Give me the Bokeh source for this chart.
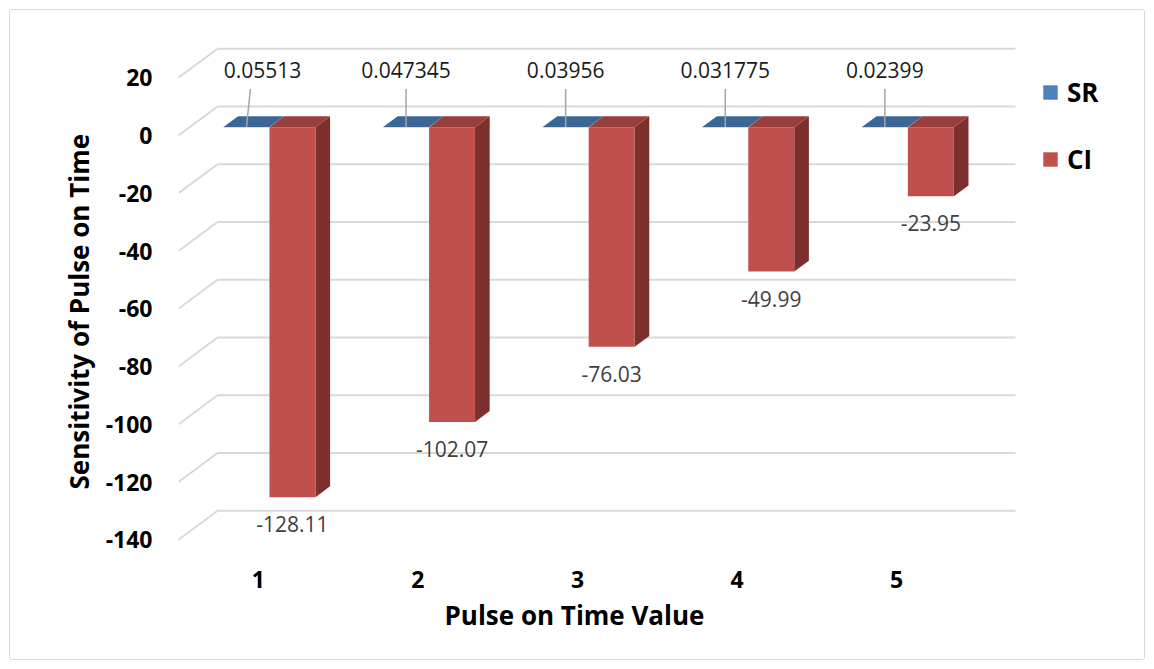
from bokeh.core.properties import value
from bokeh.embed import file_html
from bokeh.models import (ColumnDataSource, FixedTicker, Legend, LegendItem,
                          LinearAxis, Range1d, Title)
from bokeh.plotting import figure
from bokeh.resources import INLINE

# ---- data -----------------------------------------------------------------
categories = [1, 2, 3, 4, 5]
sr_values = [0.05513, 0.047345, 0.03956, 0.031775, 0.02399]
ci_values = [-128.11, -102.07, -76.03, -49.99, -23.95]
y_ticks = [-140, -120, -100, -80, -60, -40, -20, 0, 20]
series_names = ["SR", "CI"]
x_title = "Pulse on Time Value"
y_title = "Sensitivity of Pulse on Time"

# ---- layout / pseudo-3D geometry ----------------------------------------------
FONT = "Open Sans"
W, H = 1136, 651
LEFT, TOP, BOTTOM = 168, 31, 118
FRAME_W = W - LEFT
FRAME_H = H - TOP - BOTTOM
CAT_PX = 159.6          # pixels per category step
VAL_PX = 2.888          # pixels per value unit
DX = 39 / CAT_PX        # depth of the chart box, in category units
DY = 29 / VAL_PX        # depth of the chart box, in value units
BAR_W = 46 / CAT_PX     # width of one column
T0, T1 = 0.286, 0.661   # front/back depth of the columns (0 = front, 1 = back)

x0 = 0.5 - DX
x1 = x0 + FRAME_W / CAT_PX
y1 = 22.5
y0 = y1 - FRAME_H / VAL_PX

BLUE = "#4F81BD"
BLUE_TOP = "#3C6696"
RED = "#C0504D"
RED_TOP = "#983F3C"
RED_SIDE = "#7D2F2D"
GRID = "#D9D9D9"


def proj(x, v, t):
    """Project a point at depth t (0 front, 1 back wall) onto the page."""
    return x - (1 - t) * DX, v - (1 - t) * DY


p = figure(width=W, height=H,
           x_range=Range1d(x0, x1), y_range=Range1d(y0, y1),
           x_axis_location=None, y_axis_location=None,
           toolbar_location=None, output_backend="svg",
           min_border_left=LEFT, min_border_right=0,
           min_border_top=TOP, min_border_bottom=BOTTOM,
           outline_line_color=None,
           background_fill_color="white", border_fill_color="white",
           margin=(9, 9, 9, 9),
           styles={"border": "1.5px solid #d9d9d9", "border-radius": "3px"})
p.grid.visible = False

# front-edge ranges used for tick labels
p.extra_y_ranges = {"front": Range1d(y0 + DY, y1 + DY)}
p.extra_x_ranges = {"front": Range1d(x0 + DX, x1 + DX)}

# ---- walls: gridlines on the back wall and the left side -----------------
wall_left, wall_right = categories[0] - 0.5, categories[-1] + 0.5
p.segment(x0=[wall_left] * len(y_ticks), y0=y_ticks,
          x1=[wall_right] * len(y_ticks), y1=y_ticks,
          line_color=GRID, line_width=2)
side = [proj(wall_left, t, 0) for t in y_ticks]
p.segment(x0=[s[0] for s in side], y0=[s[1] for s in side],
          x1=[wall_left] * len(y_ticks), y1=y_ticks,
          line_color=GRID, line_width=2)


# ---- SR columns (very small values: only the top face shows) -----------
def face(pts):
    return [q[0] for q in pts], [q[1] for q in pts]


sr_top_xs, sr_top_ys = [], []
sr_l, sr_r, sr_t, sr_b = [], [], [], []
for c, v in zip(categories, sr_values):
    xs, ys = face([proj(c - BAR_W, v, T0), proj(c, v, T0),
                   proj(c, v, T1), proj(c - BAR_W, v, T1)])
    sr_top_xs.append(xs)
    sr_top_ys.append(ys)
    sr_l.append(proj(c - BAR_W, 0, T0)[0])
    sr_r.append(proj(c, 0, T0)[0])
    sr_t.append(proj(c, v, T0)[1])
    sr_b.append(proj(c, 0, T0)[1])

blue_front = p.quad(left=sr_l, right=sr_r, top=sr_t, bottom=sr_b,
                    fill_color=BLUE, line_color=None)
p.patches(sr_top_xs, sr_top_ys, fill_color=BLUE_TOP, line_color=None)

# ---- CI columns --------------------------------------------------------
ci_l, ci_r, ci_t, ci_b = [], [], [], []
top_xs, top_ys, side_xs, side_ys = [], [], [], []
for c, v in zip(categories, ci_values):
    ci_l.append(proj(c, 0, T0)[0])
    ci_r.append(proj(c + BAR_W, 0, T0)[0])
    ci_t.append(proj(c, 0, T0)[1])
    ci_b.append(proj(c, v, T0)[1])
    xs, ys = face([proj(c, 0, T0), proj(c + BAR_W, 0, T0),
                   proj(c + BAR_W, 0, T1), proj(c, 0, T1)])
    top_xs.append(xs)
    top_ys.append(ys)
    xs, ys = face([proj(c + BAR_W, 0, T0), proj(c + BAR_W, v, T0),
                   proj(c + BAR_W, v, T1), proj(c + BAR_W, 0, T1)])
    side_xs.append(xs)
    side_ys.append(ys)

p.patches(side_xs, side_ys, fill_color=RED_SIDE, line_color=None)
red_front = p.quad(left=ci_l, right=ci_r, top=ci_t, bottom=ci_b,
                   fill_color=RED, line_color=None)
p.patches(top_xs, top_ys, fill_color=RED_TOP, line_color=None)

# ---- data labels --------------------------------------------------------
ci_src = ColumnDataSource(dict(
    x=[proj(c + BAR_W / 2, v, T0)[0] for c, v in zip(categories, ci_values)],
    y=[proj(c, v, T0)[1] for c, v in zip(categories, ci_values)],
    text=[f"{v:g}" for v in ci_values]))
p.text(x="x", y="y", text="text", source=ci_src, y_offset=27,
       text_align="center", text_baseline="middle",
       text_font=value(FONT), text_font_size="21px", text_color="#404040")

sr_shift_px = [16, 0, 0, 0, 0]
sr_anchor = [proj(c - BAR_W / 2, v, T0) for c, v in zip(categories, sr_values)]
sr_src = ColumnDataSource(dict(
    x=[a[0] for a in sr_anchor], y=[a[1] for a in sr_anchor],
    dx=sr_shift_px, text=[f"{v:g}" for v in sr_values]))
leader_len = 13.2
p.segment(x0=[a[0] for a in sr_anchor], y0=[a[1] for a in sr_anchor],
          x1=[a[0] + s * 0.25 / CAT_PX for a, s in zip(sr_anchor, sr_shift_px)],
          y1=[a[1] + leader_len for a in sr_anchor],
          line_color="#A6A6A6", line_width=1.5)
p.text(x="x", y="y", text="text", source=sr_src, x_offset="dx", y_offset=-57,
       text_align="center", text_baseline="middle",
       text_font=value(FONT), text_font_size="21px", text_color="#1A1A1A")

# ---- axes -----------------------------------------------------------------
yax = LinearAxis(y_range_name="front", ticker=FixedTicker(ticks=y_ticks),
                 major_label_overrides={t: str(t) for t in y_ticks},
                 axis_line_color=None, major_tick_line_color=None,
                 minor_tick_line_color=None, major_label_standoff=20,
                 major_label_text_font=FONT, major_label_text_font_size="23px",
                 major_label_text_font_style="bold",
                 major_label_text_color="black")
p.add_layout(yax, "left")

xax = LinearAxis(x_range_name="front", ticker=FixedTicker(ticks=categories),
                 major_label_overrides={c: str(c) for c in categories},
                 axis_line_color=None, major_tick_line_color=None,
                 minor_tick_line_color=None, major_label_standoff=21,
                 major_label_text_font=FONT, major_label_text_font_size="23px",
                 major_label_text_font_style="bold",
                 major_label_text_color="black")
p.add_layout(xax, "below")

# axis titles, aligned on the front edges of the chart box
p.add_layout(Title(text=x_title, align="left", offset=266, standoff=9,
                   text_font=FONT, text_font_size="26px",
                   text_font_style="bold", text_color="black"), "below")
p.add_layout(Title(text=y_title, align="left", offset=54, standoff=12,
                   text_font=FONT, text_font_size="26px",
                   text_font_style="bold", text_color="black"), "left")

# ---- legend ---------------------------------------------------------------
legend = Legend(items=[LegendItem(label=series_names[0], renderers=[blue_front]),
                       LegendItem(label=series_names[1], renderers=[red_front])],
                location=(863, 366), orientation="vertical",
                border_line_color=None, background_fill_alpha=0,
                padding=0, spacing=31, glyph_width=18, glyph_height=18,
                label_standoff=8, label_height=32,
                label_text_font=FONT, label_text_font_size="26px",
                label_text_font_style="bold", label_text_color="black")
p.add_layout(legend)

open("out.html", "w").write(file_html(p, INLINE))
